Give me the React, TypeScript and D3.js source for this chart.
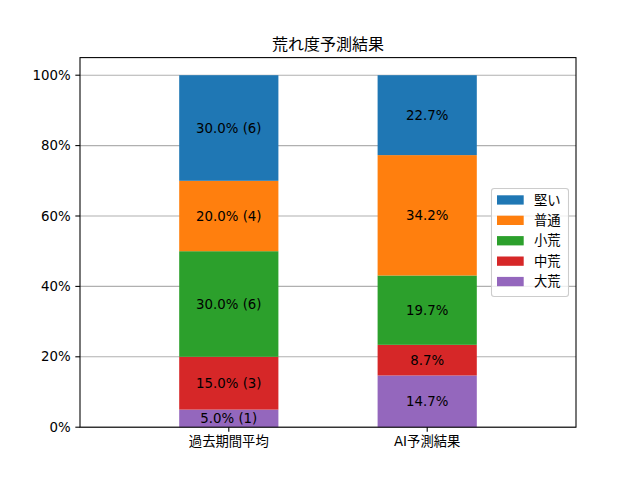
import { useEffect, useRef } from "react";
import * as d3 from "d3";

// stacking order, bottom to top
const seriesNames = ["大荒", "中荒", "小荒", "普通", "堅い"];
const seriesColors = ["#9467bd", "#d62728", "#2ca02c", "#ff7f0e", "#1f77b4"];
const categories = ["過去期間平均", "AI予測結果"];
const pastValues = [5.0, 15.0, 30.0, 20.0, 30.0];
const pastCounts = [1, 3, 6, 4, 6];
const aiValues = [14.7, 8.7, 19.7, 34.2, 22.7];
const yTicks = [0, 20, 40, 60, 80, 100];
const title = "荒れ度予測結果";

const FONT = "'DejaVu Sans', 'Noto Sans CJK JP', sans-serif";

export default function App() {
  const svgRef = useRef<SVGSVGElement>(null);

  useEffect(() => {
    document.body.style.margin = "0";
    if (!svgRef.current) return;
    const svg = d3.select(svgRef.current);
    svg.selectAll("*").remove();

    const width = 640;
    const height = 480;
    const left = 80;
    const right = 576;
    const top = 57.6;
    const bottom = 427.2;

    const x = d3.scaleLinear().domain([-0.75, 1.75]).range([left, right]);
    const y = d3.scaleLinear().domain([0, 105]).range([bottom, top]);
    const barW = x(0.5) - x(0);

    svg.append("rect").attr("width", width).attr("height", height).attr("fill", "white");

    // grid
    svg
      .append("g")
      .selectAll("line")
      .data(yTicks)
      .join("line")
      .attr("x1", left)
      .attr("x2", right)
      .attr("y1", (d) => y(d))
      .attr("y2", (d) => y(d))
      .attr("stroke", "#b0b0b0")
      .attr("stroke-width", 1.07);

    const rows = [
      { values: pastValues, label: (i: number) => `${pastValues[i].toFixed(1)}% (${pastCounts[i]})` },
      { values: aiValues, label: (i: number) => `${aiValues[i].toFixed(1)}%` },
    ];

    rows.forEach((row, ci) => {
      let base = 0;
      const g = svg.append("g");
      row.values.forEach((v, si) => {
        const y0 = y(base);
        const y1 = y(base + v);
        g.append("rect")
          .attr("x", x(ci) - barW / 2)
          .attr("width", barW)
          .attr("y", y1)
          .attr("height", y0 - y1)
          .attr("fill", seriesColors[si]);
        g.append("text")
          .attr("x", x(ci))
          .attr("y", (y0 + y1) / 2)
          .attr("text-anchor", "middle")
          .attr("dominant-baseline", "central")
          .attr("font-family", FONT)
          .attr("font-size", 13.33)
          .attr("fill", "black")
          .text(row.label(si));
        base += v;
      });
    });

    // spines
    svg
      .append("rect")
      .attr("x", left)
      .attr("y", top)
      .attr("width", right - left)
      .attr("height", bottom - top)
      .attr("fill", "none")
      .attr("stroke", "black")
      .attr("stroke-width", 1.07);

    // y axis
    const yAxis = svg.append("g");
    yTicks.forEach((t) => {
      yAxis
        .append("line")
        .attr("x1", left)
        .attr("x2", left - 4.67)
        .attr("y1", y(t))
        .attr("y2", y(t))
        .attr("stroke", "black")
        .attr("stroke-width", 1.07);
      yAxis
        .append("text")
        .attr("x", left - 9.3)
        .attr("y", y(t))
        .attr("text-anchor", "end")
        .attr("dominant-baseline", "central")
        .attr("font-family", FONT)
        .attr("font-size", 13.33)
        .text(`${t}%`);
    });

    // x axis
    const xAxis = svg.append("g");
    categories.forEach((c, i) => {
      xAxis
        .append("line")
        .attr("x1", x(i))
        .attr("x2", x(i))
        .attr("y1", bottom)
        .attr("y2", bottom + 4.67)
        .attr("stroke", "black")
        .attr("stroke-width", 1.07);
      xAxis
        .append("text")
        .attr("x", x(i))
        .attr("y", bottom + 9.3)
        .attr("text-anchor", "middle")
        .attr("dominant-baseline", "hanging")
        .attr("font-family", FONT)
        .attr("font-size", 13.33)
        .text(c);
    });

    // title
    svg
      .append("text")
      .attr("x", (left + right) / 2)
      .attr("y", top - 8)
      .attr("text-anchor", "middle")
      .attr("font-family", FONT)
      .attr("font-size", 16)
      .text(title);

    // legend (top entry first)
    const legendOrder = d3.range(seriesNames.length).reverse();
    const lx = 491.5;
    const ly = 188.5;
    const lw = 77;
    const lh = 108;
    const legend = svg.append("g");
    legend
      .append("rect")
      .attr("x", lx)
      .attr("y", ly)
      .attr("width", lw)
      .attr("height", lh)
      .attr("rx", 2.7)
      .attr("fill", "white")
      .attr("fill-opacity", 0.8)
      .attr("stroke", "#cccccc")
      .attr("stroke-width", 1.07);
    legendOrder.forEach((si, k) => {
      const cy = 200 + k * 20.4;
      legend
        .append("rect")
        .attr("x", 497)
        .attr("y", cy - 4.7)
        .attr("width", 26.7)
        .attr("height", 9.3)
        .attr("fill", seriesColors[si]);
      legend
        .append("text")
        .attr("x", 534)
        .attr("y", cy)
        .attr("dominant-baseline", "central")
        .attr("font-family", FONT)
        .attr("font-size", 13.33)
        .text(seriesNames[si]);
    });
  }, []);

  return <svg ref={svgRef} width={640} height={480} style={{ display: "block" }} />;
}
